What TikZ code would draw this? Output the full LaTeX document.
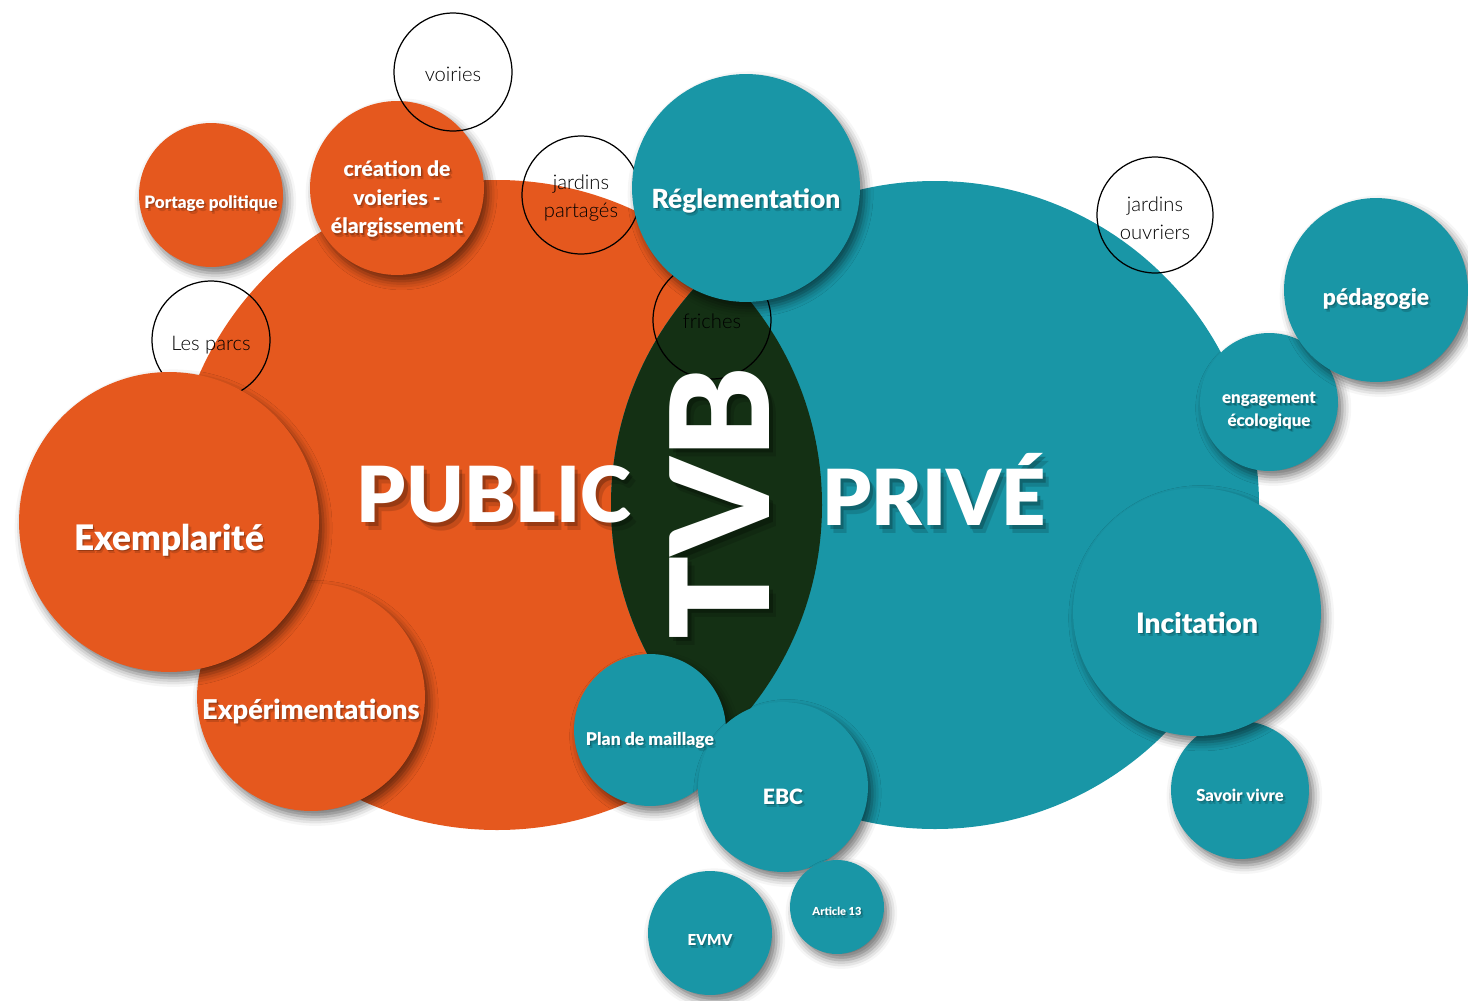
\documentclass[tikz,border=0pt]{standalone}
\usepackage{fontspec}
\setmainfont{Lato}
\newfontfamily\heavyfont{Lato Black}
\newfontfamily\lightfont{Lato Light}
\usetikzlibrary{shadows.blur}
\definecolor{pubcol}{RGB}{229,88,30}
\definecolor{pricol}{RGB}{25,150,166}
\definecolor{tvbcol}{RGB}{20,48,20}
\tikzset{
  bubble/.style={circle, minimum size=#1*0.04cm, inner sep=0pt,
    blur shadow={shadow xshift=2.5pt, shadow yshift=-3.5pt, shadow blur radius=5pt, shadow opacity=55}},
  pub/.style={bubble=#1, fill=pubcol},
  pri/.style={bubble=#1, fill=pricol},
  ring/.style={circle, minimum size=#1*0.04cm, inner sep=0pt, draw=black, line width=0.7pt},
  fs/.style 2 args={font=\heavyfont\fontsize{#1}{#2}\selectfont},
  lbl/.style={text=white, inner sep=0pt},
  shd/.style={text=black, inner sep=0pt},
  ringtxt/.style={font=\lightfont\fontsize{11.5}{16}\selectfont, text=black, inner sep=0pt}
}
% white text with a soft dark copy under it (\shk scales the offset)
\def\shk{1}
\def\btext#1[#2](#3)#4{%
  \foreach \dd/\oo in {0.7/.22, 1.4/.14}
    \node[shd, text opacity=\oo, xshift=\shk*\dd pt, yshift=-1.3*\shk*\dd pt, #2] at (#3) {#4};
  \node[lbl,#2] (#1) at (#3) {#4};}

\begin{document}
\begin{tikzpicture}[x=0.02cm, y=-0.02cm]
  %%%%% START %%%%%
  \useasboundingbox (0,0) rectangle (1468,1001);

  % public / prive and the TVB lens
  \fill[pubcol] (497,505) circle (325);
  \fill[pricol] (935,505) circle (324);
  \begin{scope}
    \clip (497,505) circle (325);
    \fill[tvbcol] (935,505) circle (324);
  \end{scope}

  % open rings lying under the bubbles
  \node[ring=59] (parcs) at (211,340) {};
  \node[ring=59] (friches) at (712,320) {};
  \node[ring=59] (partages) at (581,195) {};
  \node[ring=58] (ouvriers) at (1155,215) {};

  % bubbles
  \node[pub=72] (portage) at (211,195) {};
  \node[pub=87] (creation) at (397,188) {};
  \node[ring=59] (voiries) at (453,72) {};
  \node[pri=114] (regl) at (746,188) {};
  \node[pub=114] (experim) at (311,697) {};
  \node[pub=150] (exempl) at (169,522) {};
  \node[pri=76] (maillage) at (650,730) {};
  \node[pri=85] (ebc) at (783,787) {};
  \node[pri=62] (evmv) at (710,933) {};
  \node[pri=47] (article) at (837,907) {};
  \node[pri=69] (savoir) at (1240,790) {};
  \node[pri=124] (incit) at (1197,612) {};
  \node[pri=69] (engag) at (1269,402) {};
  \node[pri=92] (pedago) at (1376,290) {};

  % big words
  \def\shk{2.6}
  \btext{t-public}[fs={44}{50}, anchor=base](494,522){PUBLIC}
  \btext{t-prive}[fs={44}{50}, anchor=base](934,525){PRIVÉ}
  \btext{t-tvb}[fs={78}{90}, rotate=90](720,503){TVB}
  \def\shk{1}

  % bubble labels
  \btext{t-portage}[fs={9.7}{12}, anchor=base](211,208){Portage politique}
  \btext{t-creation}[fs={12}{16.4}, align=center](397,199){création de\\voieries -\\élargissement}
  \btext{t-regl}[fs={15}{18}, anchor=base](746,208){Réglementation}
  \btext{t-exempl}[fs={20}{24}, anchor=base](169,550){Exemplarité}
  \btext{t-experim}[fs={15.5}{18}, anchor=base](311,719){Expérimentations}
  \btext{t-maillage}[fs={10}{12}, anchor=base](650,745){Plan de maillage}
  \btext{t-ebc}[fs={12}{14}, anchor=base](783,804){EBC}
  \btext{t-evmv}[fs={8.6}{10}, anchor=base](710,945){EVMV}
  \btext{t-article}[fs={6.3}{8}, anchor=base](837,915){Article 13}
  \btext{t-savoir}[fs={9.4}{11}, anchor=base](1240,801){Savoir vivre}
  \btext{t-incit}[fs={16}{19}, anchor=base](1197,633){Incitation}
  \btext{t-engag}[fs={9.6}{13}, align=center](1269,411){engagement\\écologique}
  \btext{t-pedago}[fs={13}{15}, anchor=base](1376,305){pédagogie}

  % ring labels
  \node[ringtxt, anchor=base] (t-voiries) at (453,81) {voiries};
  \node[ringtxt, align=center] (t-partages) at (581,198) {jardins\\partagés};
  \node[ringtxt, anchor=base] (t-friches) at (712,328) {friches};
  \node[ringtxt, anchor=base] (t-parcs) at (211,350) {Les parcs};
  \node[ringtxt, align=center] (t-ouvriers) at (1155,218) {jardins\\ouvriers};
  %%%%% END %%%%%
\end{tikzpicture}
\end{document}
